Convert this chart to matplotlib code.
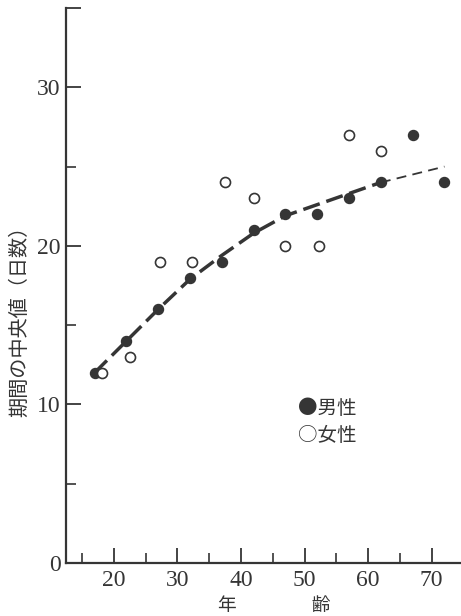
import matplotlib
matplotlib.use('Agg')
import matplotlib.pyplot as plt
from matplotlib.ticker import MultipleLocator

# 年齢ごとの期間の中央値（日数）
male_age = [17, 22, 27, 32, 37, 42, 47, 52, 57, 62, 67, 72]
male_days = [12, 14, 16, 18, 19, 21, 22, 22, 23, 24, 27, 24]

female_age = [18.2, 22.6, 27.3, 32.3, 37.5, 42, 47, 52.2, 57, 62]
female_days = [12, 13, 19, 19, 24, 23, 20, 20, 27, 26]

# 当てはめ曲線（実線部分と外挿部分）
fit_age = [17, 22, 27, 32, 37, 42, 47, 52, 57, 62]
fit_days = [12, 14, 16, 17.9, 19.4, 20.8, 21.9, 22.6, 23.3, 24.0]
ext_age = [62, 67, 72]
ext_days = [24.0, 24.5, 25.0]

x_ticks = [20, 30, 40, 50, 60, 70]
y_ticks = [0, 10, 20, 30]

ink = '#353535'
cjk = ['Noto Sans CJK JP', 'DejaVu Sans']
serif = 'Liberation Serif'

fig = plt.figure(figsize=(4.61, 6.16), dpi=100)
ax = fig.add_axes([66 / 461, 53 / 616, 1 - 66 / 461, (563 - 8) / 616])

ax.plot(fit_age, fit_days, color=ink, lw=2.5, dashes=(5, 2), zorder=2)
ax.plot(ext_age, ext_days, color=ink, lw=1.3, dashes=(5.5, 3.5), zorder=2)
ax.scatter(male_age, male_days, s=52, color=ink, zorder=3)
ax.scatter(female_age, female_days, s=52, facecolor='white', edgecolor=ink,
           linewidth=1.2, zorder=4)

ax.set_xlim(12.5, 74.6)
ax.set_ylim(0, 35)

for side in ('top', 'right'):
    ax.spines[side].set_visible(False)
for side in ('left', 'bottom'):
    ax.spines[side].set_linewidth(1.6)
    ax.spines[side].set_color(ink)

ax.set_xticks(x_ticks)
ax.set_xticklabels([str(v) for v in x_ticks])
ax.set_yticks(y_ticks + [35])
ax.set_yticklabels([str(v) for v in y_ticks] + [''])
ax.xaxis.set_minor_locator(MultipleLocator(5))
ax.yaxis.set_minor_locator(MultipleLocator(5))
ax.tick_params(which='major', direction='in', length=11, width=1.3, color=ink,
               labelsize=17, labelcolor=ink, pad=5)
ax.tick_params(which='minor', direction='in', length=7, width=1.2, color=ink)
ax.tick_params(axis='y', which='major', pad=4)
for lab in ax.get_xticklabels() + ax.get_yticklabels():
    lab.set_fontfamily(serif)

ax.text(48.9, 9.75, '●男性', family=cjk, fontsize=14, color=ink,
        ha='left', va='center')
ax.text(48.9, 8.05, '○女性', family=cjk, fontsize=14, color=ink,
        ha='left', va='center')

fig.text(20 / 461, 1 - 316 / 616, '期間の中央値（日数）', family=cjk, fontsize=14.5,
         color=ink, rotation=90, ha='center', va='center')
fig.text(274 / 461, 1 - 606 / 616, '年　　　　齢', family=cjk, fontsize=13.5,
         color=ink, ha='center', va='center')

fig.savefig('out.png', dpi=100)
